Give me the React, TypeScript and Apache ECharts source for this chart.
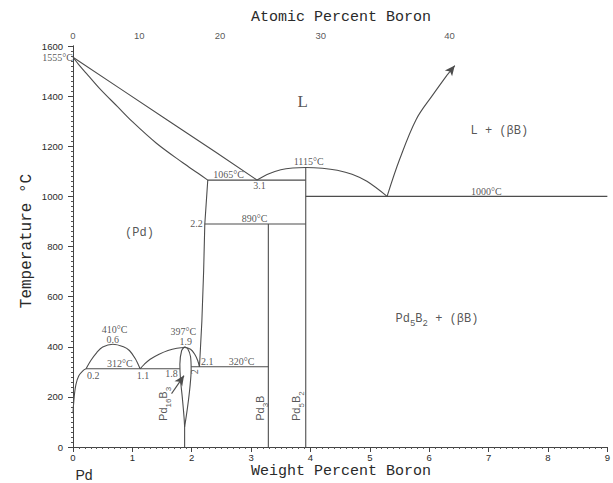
import React, { useEffect, useRef } from 'react';
import * as echarts from 'echarts';

// ---- phase boundaries (weight % B, temperature °C) ----
const liquidusPd = [[0, 1555], [0.8, 1429], [1.6, 1303], [2.4, 1177], [3.1, 1065]];
const solidusPd = [[0, 1555], [0.1, 1525], [0.25, 1484], [0.45, 1430], [0.75, 1358], [1.0, 1298], [1.4, 1213], [1.85, 1134], [2.1, 1093], [2.27, 1065]];
const solvusPd = [[2.27, 1065], [2.24, 960], [2.22, 890], [2.2, 700], [2.17, 500], [2.13, 320]];
const eutectic1065 = [[2.27, 1065], [3.92, 1065]];
const liquidusPd5B2 = [[3.1, 1065], [3.3, 1090], [3.5, 1106], [3.7, 1113], [3.92, 1115], [4.2, 1112], [4.45, 1104], [4.7, 1088], [4.95, 1060], [5.29, 1000]];
const liquidusB = [[5.29, 1000], [5.5, 1147], [5.78, 1307], [6.06, 1405], [6.3, 1484]];
const liquidusBArrow = [[6.3, 1484], [6.43, 1522]];
const eutectic1000 = [[3.92, 1000], [9, 1000]];
const pd5b2Line = [[3.92, 0], [3.92, 1115]];
const peritectic890 = [[2.22, 890], [3.92, 890]];
const pd3bLine = [[3.29, 0], [3.29, 890]];
const line320 = [[1.99, 320], [3.29, 320]];
const line312 = [[0.22, 312], [1.8, 312]];
const solvusLow = [[0, 135], [0.02, 200], [0.05, 250], [0.1, 285], [0.17, 305], [0.22, 312]];
const dome410 = [[0.22, 312], [0.3, 345], [0.4, 377], [0.5, 399], [0.67, 410], [0.85, 400], [0.95, 385], [1.05, 352], [1.13, 312]];
const dome397 = [[1.13, 312], [1.2, 330], [1.3, 350], [1.45, 370], [1.6, 385], [1.75, 394], [1.88, 397], [1.98, 390], [2.05, 370], [2.1, 345], [2.13, 320]];
const lensLeft = [[1.88, 400], [1.83, 385], [1.8, 330], [1.81, 270], [1.84, 200], [1.87, 120], [1.88, 80]];
const lensRight = [[1.88, 400], [1.93, 393], [1.98, 360], [1.99, 310], [1.97, 240], [1.93, 160], [1.88, 80]];
const stem16B3 = [[1.88, 80], [1.88, 0]];
const pd16B3Arrow = [[1.66, 213], [1.87, 285]];

// ---- axes ----
const weightTicks = [0, 1, 2, 3, 4, 5, 6, 7, 8, 9];
const tempTicks = [0, 200, 400, 600, 800, 1000, 1200, 1400, 1600];
const atomicTicks = [0, 10, 20, 30, 40];
const M_B = 10.811;
const M_PD = 106.42;
const atomicToWeight = (a: number) => (100 * a * M_B) / (a * M_B + (100 - a) * M_PD);

// ---- annotations ----
const sub = (base: string, parts: Array<[string, boolean]>) =>
  parts.map(([t, s]) => (s ? `{${base}s|${t}}` : `{${base}|${t}}`)).join('');

type Ann = { text: string; at: number[]; kind: string; rotate?: number };
const annotations: Ann[] = [
  { text: 'L', at: [3.87, 1380], kind: 'big' },
  { text: 'L + (βB)', at: [7.18, 1260], kind: 'mono' },
  { text: '(Pd)', at: [1.12, 853], kind: 'mono' },
  { text: sub('mono', [['Pd', false], ['5', true], ['B', false], ['2', true], [' + (βB)', false]]), at: [6.13, 507], kind: 'rich' },
  { text: '1065°C', at: [2.62, 1087], kind: 'small' },
  { text: '3.1', at: [3.14, 1045], kind: 'small' },
  { text: '1115°C', at: [3.97, 1138], kind: 'small' },
  { text: '1000°C', at: [6.96, 1018], kind: 'small' },
  { text: '890°C', at: [3.06, 913], kind: 'small' },
  { text: '2.2', at: [2.08, 891], kind: 'small' },
  { text: '410°C', at: [0.7, 467], kind: 'small' },
  { text: '0.6', at: [0.67, 427], kind: 'small' },
  { text: '312°C', at: [0.79, 333], kind: 'small' },
  { text: '0.2', at: [0.34, 287], kind: 'small' },
  { text: '1.1', at: [1.18, 284], kind: 'small' },
  { text: '1.8', at: [1.66, 293], kind: 'small' },
  { text: '397°C', at: [1.86, 459], kind: 'small' },
  { text: '1.9', at: [1.9, 420], kind: 'small' },
  { text: '2.1', at: [2.26, 340], kind: 'small' },
  { text: '320°C', at: [2.84, 343], kind: 'small' },
  { text: '2', at: [2.05, 300], kind: 'small', rotate: 90 },
  { text: sub('sans', [['Pd', false], ['16', true], ['B', false], ['3', true]]), at: [1.53, 172], kind: 'rich', rotate: 90 },
  { text: sub('sans', [['Pd', false], ['3', true], ['B', false]]), at: [3.16, 155], kind: 'rich', rotate: 90 },
  { text: sub('sans', [['Pd', false], ['5', true], ['B', false], ['2', true]]), at: [3.78, 163], kind: 'rich', rotate: 90 },
];

const LINE = '#4d4d4d';
const TEXT = '#2a2a2a';
const MONO = '"Liberation Mono", "DejaVu Sans Mono", monospace';
const SERIF = '"Liberation Serif", "DejaVu Serif", serif';
const SANS = '"Liberation Sans", Arial, sans-serif';

const noBorder = { textBorderWidth: 0, textBorderColor: 'transparent', textShadowBlur: 0 };
const rich = {
  mono: { fontFamily: MONO, fontSize: 12, color: TEXT, lineHeight: 14, verticalAlign: 'top', ...noBorder },
  monos: { fontFamily: MONO, fontSize: 9, color: TEXT, lineHeight: 9, padding: [7, 0, 0, 0], verticalAlign: 'top', ...noBorder },
  sans: { fontFamily: SANS, fontSize: 11, color: TEXT, lineHeight: 13, verticalAlign: 'top', ...noBorder },
  sanss: { fontFamily: SANS, fontSize: 8, color: TEXT, lineHeight: 8, padding: [7, 0, 0, 0], verticalAlign: 'top', ...noBorder },
};

const kindStyle: Record<string, any> = {
  big: { fontFamily: SERIF, fontSize: 17 },
  mono: { fontFamily: MONO, fontSize: 12 },
  small: { fontFamily: SERIF, fontSize: 10 },
  rich: { rich },
};

const straight = [
  liquidusPd, solvusPd, eutectic1065, eutectic1000, pd5b2Line, peritectic890, pd3bLine,
  line320, line312, stem16B3,
];
const curved = [solidusPd, liquidusPd5B2, liquidusB, solvusLow, dome410, dome397, lensLeft, lensRight];
const arrows = [liquidusBArrow, pd16B3Arrow];

export default function App() {
  const ref = useRef<HTMLDivElement>(null);
  useEffect(() => {
    if (!ref.current) return;
    const chart = echarts.init(ref.current, undefined, { renderer: 'svg' });
    const axisLine = { show: true, lineStyle: { color: '#444', width: 1 } };
    const lineSeries = (d: number[][], smooth: number) => ({
      type: 'line', data: d, showSymbol: false, symbol: 'none', silent: true, smooth,
      lineStyle: { color: LINE, width: 1.1 }, z: 3,
    });
    const option: any = {
      animation: false,
      backgroundColor: '#fff',
      grid: { left: 73, right: 3, top: 46, bottom: 36, containLabel: false },
      xAxis: [
        {
          type: 'value', position: 'bottom', min: weightTicks[0], max: weightTicks[weightTicks.length - 1], interval: 1,
          axisLine, splitLine: { show: false },
          axisTick: { show: true, inside: false, length: 4, lineStyle: { color: '#444' } },
          minorTick: { show: true, splitNumber: 10, length: 2, lineStyle: { color: '#555' } },
          axisLabel: { fontSize: 9.5, fontFamily: SANS, color: TEXT, margin: 5, formatter: (v: number) => String(v) },
        },
        {
          type: 'value', position: 'top', min: weightTicks[0], max: weightTicks[weightTicks.length - 1], interval: 1,
          axisLine, splitLine: { show: false },
          axisTick: { show: true, inside: true, length: 5, lineStyle: { color: '#444' } },
          minorTick: { show: true, splitNumber: 10, length: 2, lineStyle: { color: '#555' } },
          axisLabel: { show: false },
        },
      ],
      yAxis: [
        {
          type: 'value', position: 'left', min: tempTicks[0], max: tempTicks[tempTicks.length - 1], interval: 200,
          axisLine, splitLine: { show: false },
          axisTick: { show: true, inside: false, length: 5, lineStyle: { color: '#444' } },
          minorTick: { show: true, splitNumber: 10, length: 2, lineStyle: { color: '#555' } },
          axisLabel: { fontSize: 9.5, fontFamily: SANS, color: TEXT, margin: 10, formatter: (v: number) => String(v) },
        },
        {
          type: 'value', position: 'right', min: tempTicks[0], max: tempTicks[tempTicks.length - 1], interval: 200,
          axisLine, splitLine: { show: false },
          axisTick: { show: true, inside: true, length: 5, lineStyle: { color: '#444' } },
          minorTick: { show: true, splitNumber: 10, length: 2, lineStyle: { color: '#555' } },
          axisLabel: { show: false },
        },
      ],
      series: [
        ...straight.map((d) => lineSeries(d, 0)),
        ...curved.map((d) => lineSeries(d, 0.35)),
        ...arrows.map((d) => ({
          type: 'line', data: [], silent: true,
          markLine: {
            silent: true, symbol: ['none', 'arrow'], symbolSize: [7, 10],
            lineStyle: { color: LINE, width: 1.1, type: 'solid' }, label: { show: false },
            data: [[{ coord: d[0] }, { coord: d[1] }]],
          },
        })),
        {
          type: 'scatter', symbolSize: 0, silent: true, z: 5, clip: false,
          itemStyle: { color: TEXT },
          data: annotations.map((a) => ({
            value: a.at,
            label: {
              show: true, position: [0, 0], align: 'center', verticalAlign: 'middle',
              formatter: a.text, color: TEXT,
              rotate: a.rotate || 0, ...noBorder,
              ...kindStyle[a.kind],
            },
          })),
        },
        {
          type: 'scatter', symbolSize: 0, silent: true, z: 5, clip: false,
          itemStyle: { color: TEXT },
          data: [{
            value: [0, 1555],
            label: { show: true, position: 'left', distance: 0, formatter: '1555°C', color: TEXT, fontFamily: SERIF, fontSize: 10, ...noBorder },
          }],
        },
        {
          type: 'scatter', symbolSize: 0, silent: true, z: 5, clip: false,
          itemStyle: { color: TEXT },
          data: atomicTicks.map((a) => ({
            value: [atomicToWeight(a), 1600],
            label: { show: true, position: 'top', distance: 6, formatter: String(a), color: TEXT, fontFamily: SANS, fontSize: 9.5, ...noBorder },
          })),
        },
      ],
      graphic: [
        { type: 'text', x: 341, y: 17, style: { text: 'Atomic Percent Boron', fill: TEXT, font: `15px ${MONO}`, textAlign: 'center', textVerticalAlign: 'middle' } },
        { type: 'text', x: 341, y: 471, style: { text: 'Weight Percent Boron', fill: TEXT, font: `15px ${MONO}`, textAlign: 'center', textVerticalAlign: 'middle' } },
        { type: 'text', x: 27, y: 241, rotation: Math.PI / 2, style: { text: 'Temperature °C', fill: TEXT, font: `16px ${MONO}`, textAlign: 'center', textVerticalAlign: 'middle' } },
        { type: 'text', x: 84, y: 475, style: { text: 'Pd', fill: TEXT, font: `14px ${SANS}`, textAlign: 'center', textVerticalAlign: 'middle' } },
      ],
    };
    chart.setOption(option);
    return () => chart.dispose();
  }, []);
  return <div ref={ref} style={{ position: 'fixed', left: 0, top: 0, width: 613, height: 483, background: '#fff' }} />;
}
